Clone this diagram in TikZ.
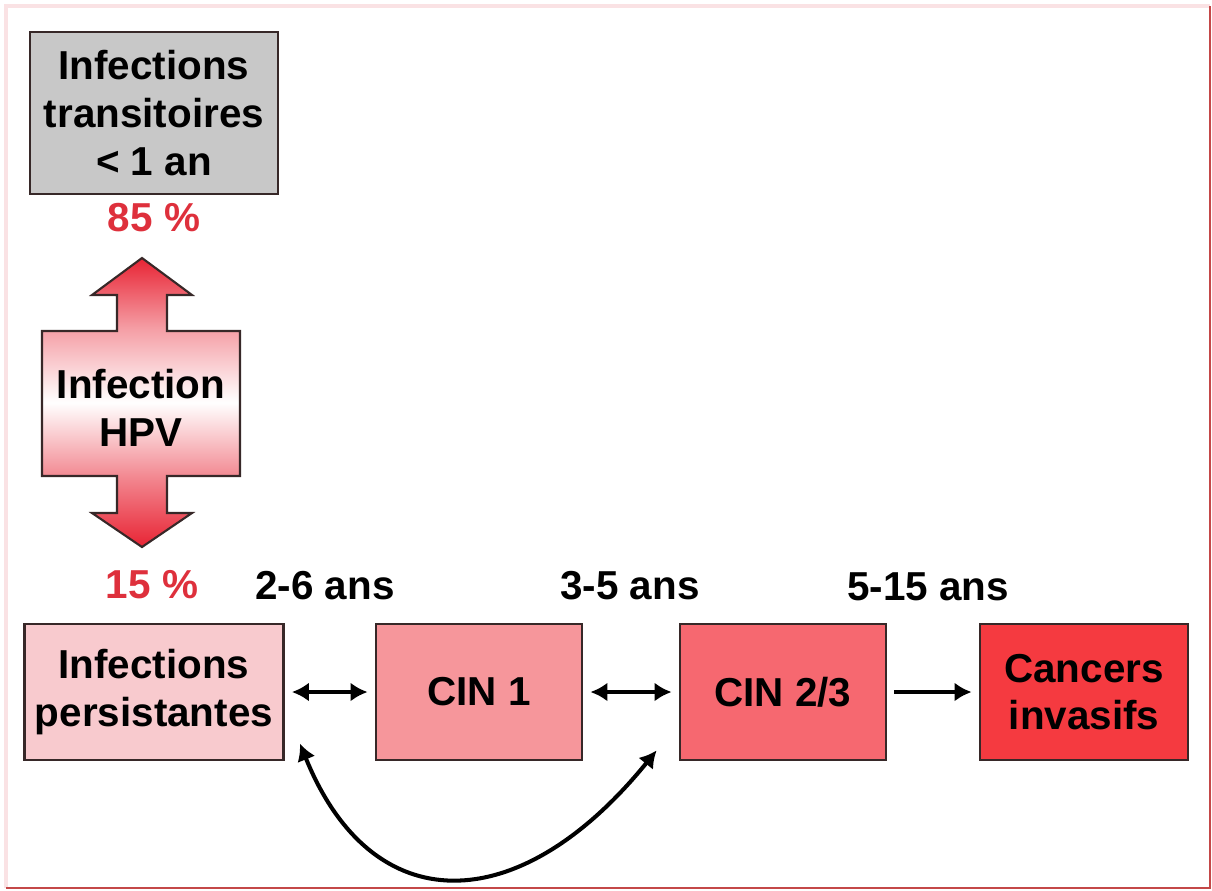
\documentclass[tikz,border=0pt]{standalone}
\usepackage{fontspec}
\setmainfont{Liberation Sans}
\usetikzlibrary{arrows.meta}
\definecolor{boxgray}{RGB}{200, 200, 200}
\definecolor{persistpink}{RGB}{248, 202, 206}
\definecolor{cinone}{RGB}{246, 150, 155}
\definecolor{cintwo}{RGB}{246, 104, 112}
\definecolor{cancerred}{RGB}{245, 58, 64}
\definecolor{hpvred}{RGB}{232, 36, 52}
\definecolor{percentred}{RGB}{222, 48, 60}
\definecolor{framered}{RGB}{196, 72, 72}
\definecolor{framepink}{RGB}{250, 226, 228}
\definecolor{boxline}{RGB}{55, 40, 40}
\pgfdeclareverticalshading{hpvshade}{100bp}{color(0bp)=(hpvred); color(25bp)=(hpvred);
  color(37bp)=(hpvred!55); color(50bp)=(white); color(63bp)=(hpvred!45);
  color(75bp)=(hpvred); color(100bp)=(hpvred)}

\begin{document}
\begin{tikzpicture}[x=0.02cm, y=-0.02cm,
    every node/.style={font=\fontsize{23}{27.2}\selectfont\bfseries, align=center},
    stage/.style={draw=boxline, line width=1.6pt, inner sep=0pt, minimum height=2.72cm},
    link/.style={line width=2.3pt, >={Latex[length=0.34cm, width=0.38cm]}, shorten <=4pt, shorten >=4pt}]
            \useasboundingbox (0, 0) rectangle (1212, 890);
            % Slide frame
            \draw[framepink, line width=2.5pt] (6, 888) -- (6, 6) -- (1210, 6);
            \draw[framered,  line width=1.6pt] (6, 888) -- (1210, 888) -- (1210, 6);
            % Transient infections
            \node[stage, fill=boxgray, minimum width=4.96cm, minimum height=3.24cm] (trans) at (154, 113)
                 {Infections\\transitoires\\< 1 an};
            \node[text=percentred] (p85) at (154, 218) {85 \%};
            % HPV infection, double arrow
            \shadedraw[shading=hpvshade, draw=boxline, line width=1.2pt]
                 (142, 258) -- (192, 295) -- (167, 295) -- (167, 331) -- (240, 331) -- (240, 476)
                 -- (167, 476) -- (167, 513) -- (192, 513) -- (142, 547) -- ( 92, 513) -- (117, 513)
                 -- (117, 476) -- ( 42, 476) -- ( 42, 331) -- (117, 331) -- (117, 295) -- ( 92, 295) -- cycle;
            \node (hpv) at (141, 408) {Infection\\HPV};
            \node[text=percentred] (p15) at (152, 585) {15 \%};
            % Lesion stages
            \node[stage, fill=persistpink, minimum width=5.18cm] (persist) at ( 154, 692) {Infections\\persistantes};
            \node[stage, fill=cinone,      minimum width=4.12cm] (cin1)    at ( 479, 692) {CIN 1};
            \node[stage, fill=cintwo,      minimum width=4.12cm] (cin23)   at ( 783, 692) {CIN 2/3};
            \node[stage, fill=cancerred,   minimum width=4.16cm] (cancer)  at (1084, 692) {Cancers\\invasifs};
            % Durations
            \node (t26)  at ( 325, 586) {2-6 ans};
            \node (t35)  at ( 630, 586) {3-5 ans};
            \node (t515) at ( 928, 587) {5-15 ans};
            % Transitions
            \draw[link, <->] (persist) -- (cin1);
            \draw[link, <->] (cin1) -- (cin23);
            \draw[link, ->]  (cin23) -- (cancer);
            \draw[link, <->, shorten <=0pt, shorten >=0pt] ([shift={(15,-18)}]persist.south east)
                 .. controls +(72, 178) and +(-138, 170) .. ([shift={(-22,-11)}]cin23.south west);
\end{tikzpicture}
\end{document}
